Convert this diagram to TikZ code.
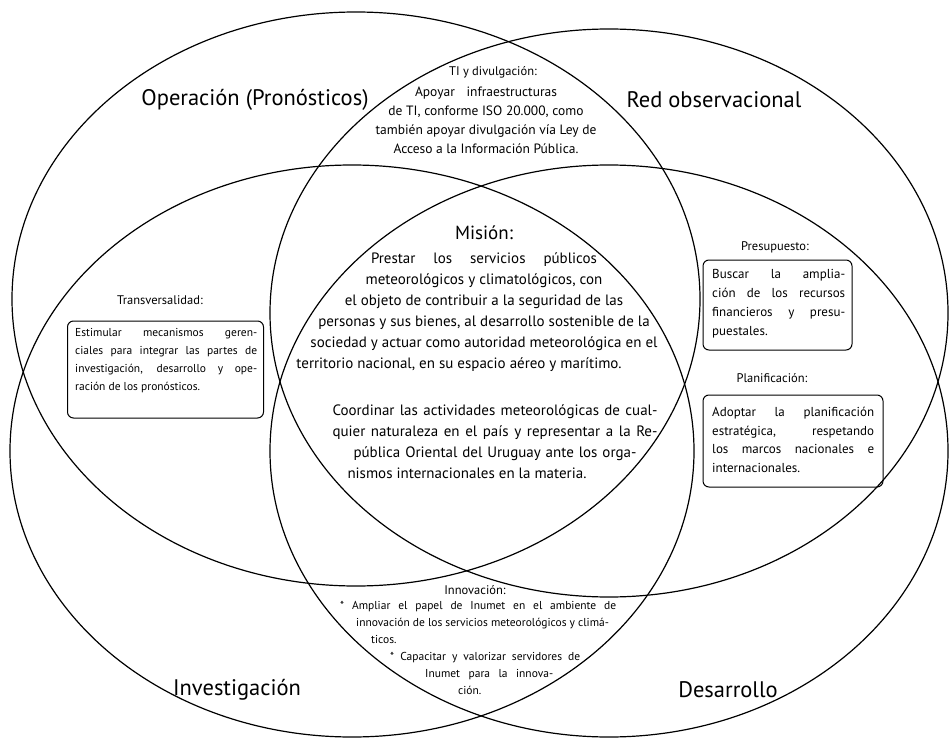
\documentclass[tikz,border=0pt]{standalone}
\usepackage{fontspec}
\setmainfont{PT Sans}
\usetikzlibrary{positioning}
\newcommand{\jline}[2]{\makebox[#1][s]{#2}}
\tikzset{
  ring/.style={line width=1.2pt, black},
  areaname/.style={inner sep=0pt, font=\fontsize{22.5}{26}\selectfont},
  headtext/.style={inner sep=0pt, font=\fontsize{12.5}{15}\selectfont},
  bodytext/.style={inner sep=0pt, align=center, font=\fontsize{15}{21}\selectfont},
  notebox/.style={draw, line width=1pt, rounded corners=6pt, inner sep=0pt},
  notetext/.style={inner sep=0pt, align=left, anchor=base west}
}
\begin{document}
\begin{tikzpicture}[x=1pt,y=-1pt]
  \useasboundingbox (0,0) rectangle (950,738);

  % the four areas
  \coordinate (opc) at (356,299);
  \coordinate (redc) at (609,313);
  \coordinate (invc) at (352,451);
  \coordinate (desc) at (609,451);
  \draw[ring] (opc) ellipse [x radius=344, y radius=287];
  \draw[ring] (redc) ellipse [x radius=339, y radius=284];
  \draw[ring] (invc) ellipse [x radius=342, y radius=286];
  \draw[ring] (desc) ellipse [x radius=339, y radius=286];

  \node[areaname] (oper) at (255,100) {Operación (Pronósticos)};
  \node[areaname] (red) at (714,100) {Red observacional};
  \node[areaname] (inv) at (237,690) {Investigación};
  \node[areaname] (des) at (728,690) {Desarrollo};

  % TI y divulgacion
  \node[headtext, anchor=base] (tihead) at (493,76) {TI y divulgación:};
  \node[bodytext, anchor=base, font=\fontsize{13.5}{19}\selectfont] (tibody) at (486,154)
    {\jline{142pt}{Apoyar infraestructuras}\\
     de TI, conforme ISO 20.000, como\\
     también apoyar divulgación vía Ley de\\
     Acceso a la Información Pública.};

  % Mision
  \node[inner sep=0pt, font=\fontsize{19}{22}\selectfont, anchor=base] (mishead) at (484,239) {Misión:};
  \node[bodytext, anchor=base] (misone) at (484,368)
    {\jline{226pt}{Prestar los servicios públicos}\\
     meteorológicos y climatológicos, con\\
     el objeto de contribuir a la seguridad de las\\
     personas y sus bienes, al desarrollo sostenible de la\\
     sociedad y actuar como autoridad meteorológica en el\\
     territorio nacional, en su espacio aéreo y marítimo.\hspace*{50pt}};
  \node[bodytext, anchor=base] (mistwo) at (495,478)
    {\jline{325pt}{Coordinar las actividades meteorológicas de cual-}\\
     \jline{325pt}{quier naturaleza en el país y representar a la Re-}\\
     \jline{283pt}{pública Oriental del Uruguay ante los orga-}\\
     nismos internacionales en la materia.\hspace*{56pt}};

  % Transversalidad
  \node[headtext] (transhead) at (160,300) {Transversalidad:};
  \node[notebox, minimum width=196pt, minimum height=97pt] (transbox) at (165.5,369.5) {};
  \node[notetext, font=\fontsize{11.5}{18}\selectfont] (transtext) at (75,390)
    {\jline{182pt}{Estimular mecanismos geren-}\\
     \jline{182pt}{ciales para integrar las partes de}\\
     \jline{182pt}{investigación, desarrollo y ope-}\\
     ración de los pronósticos.};

  % Presupuesto
  \node[headtext] (preshead) at (775,247) {Presupuesto:};
  \node[notebox, minimum width=149pt, minimum height=90pt] (presbox) at (777.5,305) {};
  \node[notetext, font=\fontsize{13}{19}\selectfont] (prestext) at (712,335)
    {\jline{133pt}{Buscar la amplia-}\\
     \jline{133pt}{ción de los recursos}\\
     \jline{133pt}{financieros y presu-}\\
     puestales.};

  % Planificacion
  \node[headtext] (planhead) at (772,378) {Planificación:};
  \node[notebox, minimum width=180pt, minimum height=92pt] (planbox) at (793,441) {};
  \node[notetext, font=\fontsize{13}{18.5}\selectfont] (plantext) at (712,472)
    {\jline{162pt}{Adoptar la planificación}\\
     \jline{162pt}{estratégica, respetando}\\
     \jline{162pt}{los marcos nacionales e}\\
     internacionales.};

  % Innovacion
  \node[headtext, anchor=base] (innhead) at (475,594) {Innovación:};
  \node[notetext, font=\fontsize{11.5}{17}\selectfont] (inntext) at (340,694)
    {\jline{276pt}{* Ampliar el papel de Inumet en el ambiente de}\\
     \hspace*{16pt}innovación de los servicios meteorológicos y climá-\\
     \hspace*{31pt}ticos.\\
     \hspace*{50pt}\jline{190pt}{* Capacitar y valorizar servidores de}\\
     \hspace*{85pt}\jline{128pt}{Inumet para la innova-}\\
     \hspace*{118pt}ción.};
\end{tikzpicture}
\end{document}
